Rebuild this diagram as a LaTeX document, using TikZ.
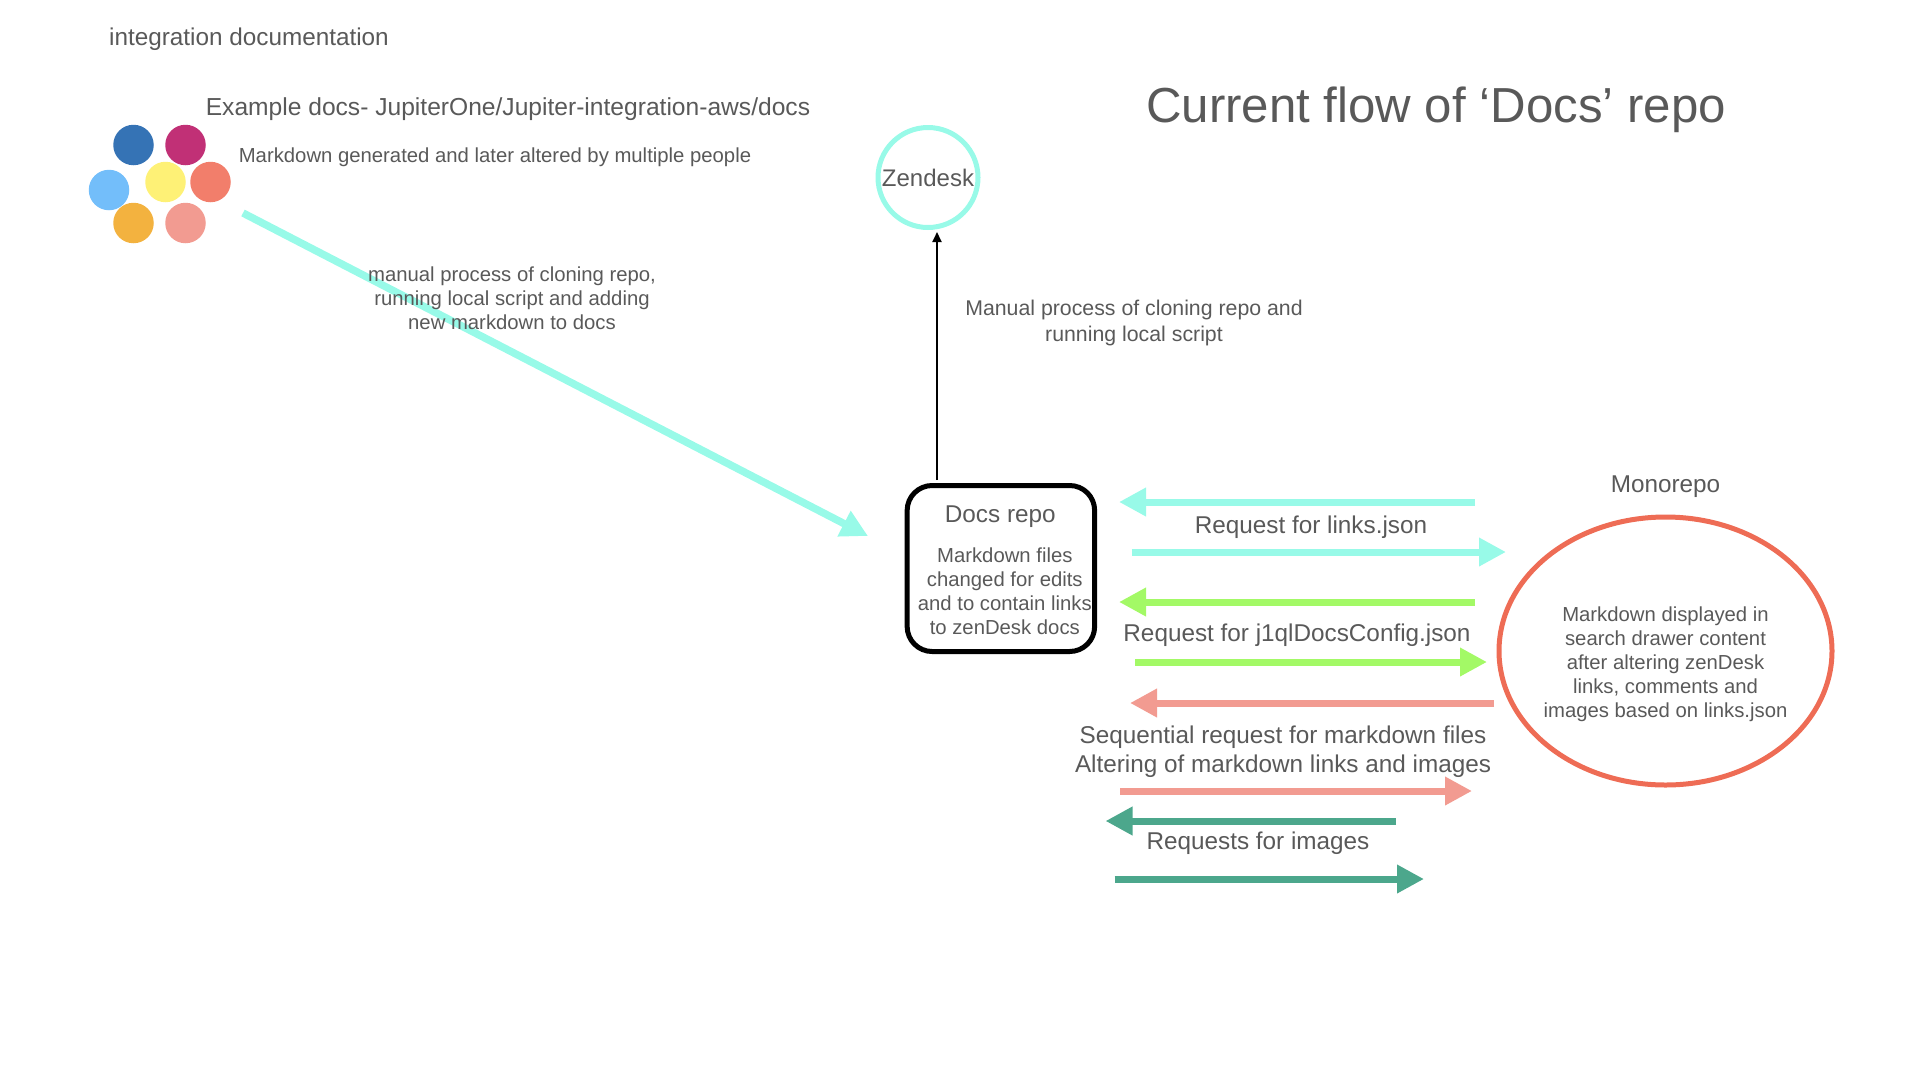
\documentclass[tikz,border=0pt]{standalone}
\usepackage{fontspec}
\setmainfont{Liberation Sans}
\usetikzlibrary{arrows.meta, shapes.geometric}
\definecolor{textgray}{HTML}{595959}
\definecolor{aqua}{HTML}{98FAE8}
\definecolor{lime}{HTML}{A3F966}
\definecolor{blush}{HTML}{F29B91}
\definecolor{pine}{HTML}{4CA78C}
\definecolor{coral}{HTML}{EE6C55}
\definecolor{dotyellow}{HTML}{FEF176}
\definecolor{dotred}{HTML}{F27E6B}
\definecolor{dotsky}{HTML}{73BEFA}
\definecolor{dotblue}{HTML}{3573B5}
\definecolor{dotmagenta}{HTML}{C13076}
\definecolor{dotorange}{HTML}{F3B23F}
\begin{document}
\begin{tikzpicture}[
        x=1pt, y=-1pt,
        label/.style={text=textgray, inner sep=0pt, align=center, font=\fontsize{24.3}{29.4}\selectfont},
        small/.style={text=textgray, inner sep=0pt, align=center, font=\fontsize{20.3}{24}\selectfont},
        dot/.style={circle, inner sep=0pt, minimum size=40.5pt},
        flow/.style={-{Triangle[length=27pt, width=27pt]}, line width=7pt},
        wide/.style={-{Triangle[length=27pt, width=27pt]}, line width=7.5pt},
        thin arrow/.style={-{Triangle[length=10pt, width=9pt]}, line width=2pt}
    ]
    \useasboundingbox (0,0) rectangle (1920,1080);

% People
        \node[dot, fill=dotyellow] (yellowdot) at (165.5,182) {};
        \node[dot, fill=dotred, right of=yellowdot, node distance=45pt] (reddot) {};
        \node[dot, fill=dotsky] (skydot) at (109,190) {};
        \node[dot, fill=dotblue] (bluedot) at (133.5,145) {};
        \node[dot, fill=dotmagenta, right of=bluedot, node distance=52pt] (magentadot) {};
        \node[dot, fill=dotorange, below of=bluedot, node distance=78pt] (orangedot) {};
        \node[dot, fill=blush, right of=orangedot, node distance=52pt] (pinkdot) {};

% Main shapes
        \node[draw=aqua, line width=5pt, circle, minimum size=100pt, inner sep=0pt, text=textgray, font=\fontsize{24}{29}\selectfont] (zendesk) at (928,177.5) {Zendesk};
        \node[draw=black, line width=5pt, rounded corners=25pt, minimum width=187.5pt, minimum height=166pt, inner sep=0pt] (docs) at (1000.9,568.5) {};
        \node[draw=coral, line width=5pt, ellipse, minimum width=333pt, minimum height=268pt, inner sep=0pt] (mono) at (1665.5,651) {};

% Arrow ends
        \coordinate (peopleout) at (243,213);
        \coordinate (docsin) at (868,536);
        \coordinate (docsout) at (937,480);
        \coordinate (zenin) at (937,232);
        \coordinate (linksa) at (1475,502);
        \coordinate (linksb) at (1119,502);
        \coordinate (linksc) at (1131.7,552);
        \coordinate (linksd) at (1506,552);
        \coordinate (configa) at (1475,602);
        \coordinate (configb) at (1119,602);
        \coordinate (configc) at (1135,662);
        \coordinate (configd) at (1487,662);
        \coordinate (mda) at (1494,703);
        \coordinate (mdb) at (1130,703);
        \coordinate (mdc) at (1120,791);
        \coordinate (mdd) at (1472,791);
        \coordinate (imga) at (1396,821);
        \coordinate (imgb) at (1105.5,821);
        \coordinate (imgc) at (1114.5,879);
        \coordinate (imgd) at (1424,879);

% Arrows
        \draw[wide, aqua] (peopleout) -- (docsin);
        \draw[thin arrow] (docsout) -- (zenin);
        \draw[flow, aqua] (linksa) -- (linksb);
        \draw[flow, aqua] (linksc) -- (linksd);
        \draw[flow, lime] (configa) -- (configb);
        \draw[flow, lime] (configc) -- (configd);
        \draw[flow, blush] (mda) -- (mdb);
        \draw[flow, blush] (mdc) -- (mdd);
        \draw[flow, pine] (imga) -- (imgb);
        \draw[flow, pine] (imgc) -- (imgd);

% Text
        \node[label] (integration) at (249,39) {integration documentation};
        \node[label, font=\fontsize{24.6}{29}\selectfont] (example) at (508,109) {Example docs- JupiterOne/Jupiter-integration-aws/docs};
        \node[small] (generated) at (495,157.5) {Markdown generated and later altered by multiple people};
        \node[text=textgray, inner sep=0pt, font=\fontsize{49.2}{54}\selectfont] (title) at (1436,110) {Current flow of ‘Docs’ repo};
        \node[small] (manualdocs) at (512,298) {manual process of cloning repo,\\running local script and adding\\new markdown to docs};
        \node[small, font=\fontsize{21.3}{25.5}\selectfont] (manualzen) at (1134,323) {Manual process of cloning repo and\\running local script};
        \node[label] (docstitle) at (1000.3,516.5) {Docs repo};
        \node[small] (docsbody) at (1004.8,591) {Markdown files\\changed for edits\\and to contain links\\to zenDesk docs};
        \node[label] (monotitle) at (1665.5,487) {Monorepo};
        \node[small] (monobody) at (1665.5,664) {Markdown displayed in\\search drawer content\\after altering zenDesk\\links, comments and\\images based on links.json};
        \node[label] (linkslabel) at (1311,527) {Request for links.json};
        \node[label] (configlabel) at (1297,635) {Request for j1qlDocsConfig.json};
        \node[label] (mdlabel) at (1283,752) {Sequential request for markdown files\\Altering of markdown links and images};
        \node[label] (imglabel) at (1258,843.5) {Requests for images};
    \end{tikzpicture}
\end{document}
